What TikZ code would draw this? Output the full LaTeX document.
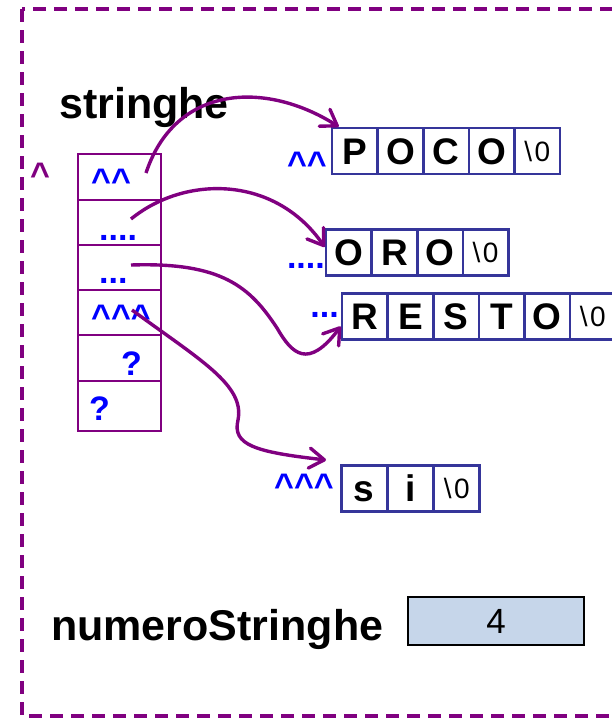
\documentclass[tikz,border=0pt]{standalone}
\usepackage{fontspec}
\setmainfont{Liberation Sans}
\usetikzlibrary{arrows.meta}
\definecolor{vio}{HTML}{800080}
\definecolor{boxblue}{HTML}{35359A}
\definecolor{lblue}{HTML}{0000FF}
\definecolor{fillblue}{HTML}{C6D6EA}
\newcommand{\ca}{\textasciicircum}
\newcommand{\zterm}{\textbackslash\kern2.5pt 0}
\begin{document}
\begin{tikzpicture}[x=1pt,y=-1pt,
  cell/.style={draw=boxblue, line width=2.6pt, minimum width=45.6pt, minimum height=46pt, inner sep=0pt,
    font=\bfseries\fontsize{37}{37}\selectfont, text height=26.5pt, text depth=0pt},
  zcell/.style={cell, font=\fontsize{28}{28}\selectfont, text height=20pt},
  acell/.style={draw=vio, line width=2.6pt, minimum width=83pt, inner sep=0pt},
  lbl/.style={text=lblue, font=\bfseries\fontsize{34}{34}\selectfont, inner sep=0pt},
  title/.style={font=\bfseries\fontsize{43}{43}\selectfont, inner sep=0pt, anchor=base west},
  arr/.style={vio, line width=3.4pt, -{Straight Barb[length=15pt,width=20pt,round]}}
]
\useasboundingbox (0,0) rectangle (612,718);
\clip (0,0) rectangle (612,718);
\draw[vio, line width=3.5pt, dash pattern=on 13pt off 8pt] (22,9) rectangle (650,716);

% titles
\node[title] (tstr) at (59,118) {stringhe};
\node[title] (tnum) at (51,640) {numeroStringhe};
\node[draw=black, line width=1.5pt, fill=fillblue, minimum width=176pt, minimum height=48pt, inner sep=0pt,
  font=\fontsize{35}{35}\selectfont] (num) at (496,621) {4};

% array
\node[acell, minimum height=46pt] (a1) at (119.5,177) {};
\node[acell, minimum height=45pt] (a2) at (119.5,222.5) {};
\node[acell, minimum height=45pt] (a3) at (119.5,267.5) {};
\node[acell, minimum height=45pt] (a4) at (119.5,312.5) {};
\node[acell, minimum height=46pt] (a5) at (119.5,358) {};
\node[acell, minimum height=50pt] (a6) at (119.5,406) {};

\node[lbl, anchor=base west] (l1) at (91,192) {\ca\ca};
\node[lbl, anchor=base west] (l2) at (99,240) {....};
\node[lbl, anchor=base west] (l3) at (99,283) {...};
\node[lbl, anchor=base west] (l4) at (91,328) {\ca\ca\ca};
\node[lbl, anchor=base west] (l5) at (121,375) {?};
\node[lbl, anchor=base west] (l6) at (89,420) {?};
\node[lbl, text=vio, anchor=base west] (lp) at (30,186) {\ca};

% POCO
\node[cell] (p1) at (354.8,151) {P};
\node[cell] (p2) at (400.4,151) {O};
\node[cell] (p3) at (446,151) {C};
\node[cell] (p4) at (491.6,151) {O};
\node[zcell] (p5) at (537.2,151) {\zterm};
\node[lbl, anchor=base east] (lpoco) at (327,175) {\ca\ca};

% ORO
\node[cell] (o1) at (348.8,252.5) {O};
\node[cell] (o2) at (394.4,252.5) {R};
\node[cell] (o3) at (440,252.5) {O};
\node[zcell] (o4) at (485.6,252.5) {\zterm};
\node[lbl, anchor=base east] (loro) at (325,268) {....};

% RESTO
\node[cell] (r1) at (364.8,316.5) {R};
\node[cell] (r2) at (410.4,316.5) {E};
\node[cell] (r3) at (456,316.5) {S};
\node[cell] (r4) at (501.6,316.5) {T};
\node[cell] (r5) at (547.2,316.5) {O};
\node[zcell] (r6) at (592.8,316.5) {\zterm};
\node[lbl, anchor=base east] (lresto) at (339,317) {...};

% si
\node[cell] (si1) at (364.2,488.5) {s};
\node[cell] (si2) at (410.5,488.5) {i};
\node[zcell] (si3) at (456.8,488.5) {\zterm};
\node[lbl, anchor=base east] (lsi) at (334,497) {\ca\ca\ca};

% arrows
\coordinate (s1) at (146,173);
\coordinate (s2) at (131,219);
\coordinate (s3) at (131,265);
\coordinate (s4) at (132,310);
\coordinate (e4) at (326,460);
\draw[arr] (s1) .. controls (175,85) and (265,80) .. ([xshift=8pt]p1.north west);
\draw[arr] (s2) .. controls (185,175) and (275,175) .. ([yshift=5.5pt]o1.west);
\draw[arr] (s3) .. controls (222,262) and (250,287) .. (277,328)
  .. controls (292,354) and (308,370) .. ([yshift=-10pt]r1.west);
\draw[arr] (s4) .. controls (200,360) and (245,385) .. (238,420)
  .. controls (232,445) and (255,452) .. (e4);
\end{tikzpicture}
\end{document}
